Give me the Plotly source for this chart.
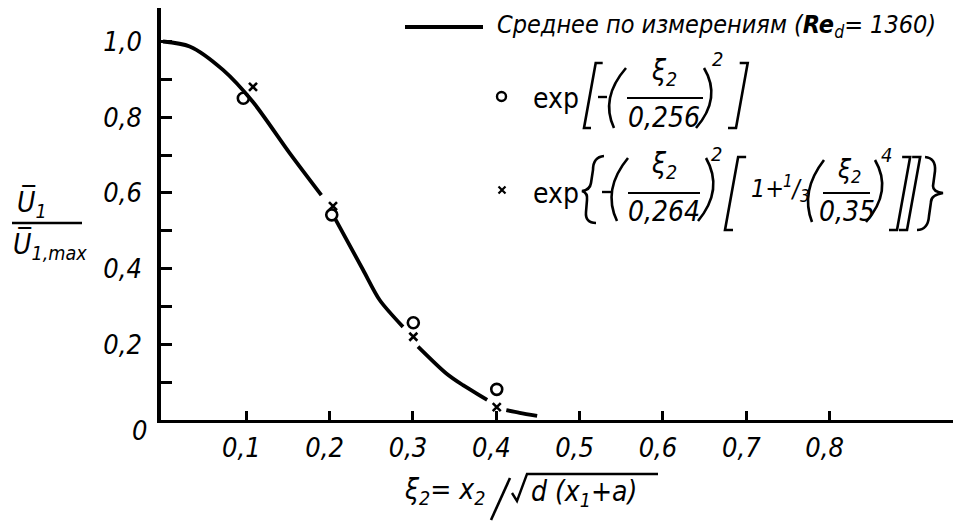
import plotly.graph_objects as go

# Mean measured profile (Re_d = 1360); None separates the pen strokes
curve_xi = [0.0, 0.032, 0.072, 0.108, 0.152, 0.19, None,
            0.207, 0.24, 0.26, 0.288, None,
            0.306, 0.34, 0.36, 0.389, None,
            0.412, 0.428, 0.449]
curve_u = [1.0, 0.987, 0.925, 0.84, 0.705, 0.594, None,
           0.53, 0.397, 0.317, 0.246, None,
           0.194, 0.123, 0.092, 0.053, None,
           0.026, 0.019, 0.011]

# Gaussian fit exp[-(xi/0.256)^2]
circle_xi = [0.0964, 0.2025, 0.3004, 0.4005]
circle_u = [0.85, 0.542, 0.257, 0.081]

# Corrected fit exp{-(xi/0.264)^2 [1 + 1/3 (xi/0.35)^4]}
cross_xi = [0.108, 0.204, 0.3004, 0.4005]
cross_u = [0.88, 0.565, 0.22, 0.034]

x_tickvals = [0.1, 0.2, 0.3, 0.4, 0.5, 0.6, 0.7, 0.8]
x_ticktext = ["0,1", "0,2", "0,3", "0,4", "0,5", "0,6", "0,7", "0,8"]
y_tickvals = [0.1, 0.2, 0.3, 0.4, 0.5, 0.6, 0.7, 0.8, 0.9, 1.0]
y_ticktext = ["", "0,2", "", "0,4", "", "0,6", "", "0,8", "", "1,0"]

W, H = 953, 522
ML, MR, MT, MB = 161, 0, 8, 102
PW, PH = W - ML - MR, H - MT - MB

FONT = "DejaVu Sans Condensed, DejaVu Sans, sans-serif"
UP = "DejaVu Sans Condensed, DejaVu Sans, sans-serif"
INK = "black"


def px(x):
    return (x - ML) / PW


def py(y):
    return (H - MB - y) / PH


fig = go.Figure()

fig.add_trace(go.Scatter(
    x=curve_xi, y=curve_u, mode="lines",
    line=dict(color=INK, width=3.8, shape="spline", smoothing=0.8),
    connectgaps=False, showlegend=False, hoverinfo="skip"))

fig.add_trace(go.Scatter(
    x=circle_xi, y=circle_u, mode="markers",
    marker=dict(symbol="circle-open", size=11, color=INK,
                line=dict(color=INK, width=2.6)),
    showlegend=False))

fig.add_trace(go.Scatter(
    x=cross_xi, y=cross_u, mode="markers",
    marker=dict(symbol="x-thin-open", size=8, color=INK,
                line=dict(color=INK, width=2.6)),
    showlegend=False))

x_lo = (ML - 163) / 833.3
x_hi = (W - MR - 163) / 833.3
y_hi = (H - MB - MT) / 378.5

tick_font = dict(family=FONT, size=27, color=INK, style="italic")

fig.update_xaxes(
    range=[x_lo, x_hi], showgrid=False, zeroline=False,
    showline=True, linecolor=INK, linewidth=3,
    tickvals=x_tickvals, ticktext=x_ticktext,
    ticks="inside", ticklen=9, tickwidth=2.5, tickcolor=INK,
    tickfont=tick_font, ticklabelstandoff=2, ticklabelshift=-5)

fig.update_yaxes(
    range=[0, y_hi], showgrid=False, zeroline=False,
    showline=True, linecolor=INK, linewidth=3.5,
    tickvals=y_tickvals, ticktext=y_ticktext,
    ticks="inside", ticklen=11, tickwidth=2.5, tickcolor=INK,
    tickfont=tick_font, ticklabelstandoff=10)

ann = []
shapes = []


def text(x, y, s, size=27, italic=True, anchor="center", family=FONT):
    ann.append(dict(
        x=px(x), y=py(y), xref="paper", yref="paper", text=s,
        showarrow=False, xanchor=anchor, yanchor="middle",
        font=dict(family=family, size=size, color=INK,
                  style="italic" if italic else "normal")))


def rule(x0, x1, y, width=2.2):
    shapes.append(dict(type="line", xref="paper", yref="paper",
                       x0=px(x0), x1=px(x1), y0=py(y), y1=py(y),
                       line=dict(color=INK, width=width)))


def stroke(cmds, width=2.6):
    """Pen stroke given as (op, x, y, ...) tuples in pixel space."""
    parts = []
    for c in cmds:
        op, pts = c[0], c[1:]
        xy = " ".join(f"{px(pts[i]):.5f},{py(pts[i + 1]):.5f}"
                      for i in range(0, len(pts), 2))
        parts.append(f"{op} {xy}")
    shapes.append(dict(type="path", xref="paper", yref="paper",
                       path=" ".join(parts),
                       line=dict(color=INK, width=width)))


SLANT = 0.18


def lbrack(xb, top, bot, serif=7):
    xt = xb + SLANT * (bot - top)
    stroke([("M", xt + serif, top), ("L", xt, top), ("L", xb, bot), ("L", xb + serif, bot)])


def rbrack(xb, top, bot, serif=8):
    xt = xb + SLANT * (bot - top)
    stroke([("M", xt - serif, top), ("L", xt, top), ("L", xb, bot), ("L", xb - serif, bot)])


def paren(xt, top, xc, xb, bot):
    stroke([("M", xt, top), ("Q", xc, (top + bot) / 2, xb, bot)])


# origin label
text(139, 430, "0")

# x-axis title: xi_2 = x_2 / sqrt(d (x_1 + a))
text(488, 492, "ξ<sub>2</sub>= x<sub>2</sub>", size=28, anchor="right")
stroke([("M", 491, 520), ("L", 510, 478)], width=2.6)
stroke([("M", 512, 493), ("L", 517, 501), ("L", 527, 474), ("L", 658, 474)], width=2.4)
text(529, 493, "d (x<sub>1</sub>+a)", size=28, anchor="left")

# y-axis title: U_1 / U_1,max
text(32, 204, "U\u0305<sub>1</sub>", size=28)
rule(12, 82, 223, width=2.5)
text(50, 246, "U\u0305<sub>1,max</sub>", size=28)

# legend: mean curve
rule(405, 483, 27, width=3.8)
text(495, 26, "Среднее по измерениям (<b>Re</b><sub>d</sub>= 1360)", size=25, anchor="left")

# legend: circle formula
shapes.append(dict(type="circle", xref="paper", yref="paper",
                   x0=px(497), x1=px(506), y0=py(92), y1=py(101),
                   line=dict(color=INK, width=2.4)))
text(556, 98, "exp", size=28, italic=False, family=UP)
lbrack(584, 63, 128)
rule(598, 607, 97, width=2.4)
paren(626, 68, 600, 614, 128)
text(664, 72, "ξ<sub>2</sub>", size=28)
rule(627, 703, 98)
text(664, 117, "0,256", size=28)
paren(704, 68, 722, 696, 128)
text(717, 59, "2", size=20)
rbrack(736, 63, 128)

# legend: cross formula
stroke([("M", 498.5, 186.5), ("L", 505.5, 193.5), ("M", 505.5, 186.5), ("L", 498.5, 193.5)], width=2.2)
text(556, 193, "exp", size=28, italic=False, family=UP)
stroke([("M", 604, 156), ("Q", 593, 157, 593, 170), ("L", 591, 183),
        ("Q", 590, 190, 582, 191), ("Q", 588, 193, 587, 200), ("L", 586, 212),
        ("Q", 585, 223, 596, 223)])
rule(602, 612, 192, width=2.4)
paren(628, 158, 602, 617, 221)
text(664, 165, "ξ<sub>2</sub>", size=28)
rule(628, 700, 193)
text(664, 211, "0,264", size=28)
paren(706, 158, 724, 698, 221)
text(716, 154, "2", size=20)
lbrack(725, 157, 230, serif=8)
text(767, 188, "1+", size=25)
text(796, 188, "<sup>1</sup>/<sub>3</sub>", size=24)
paren(824, 160, 800, 812, 222)
text(849, 170, "ξ<sub>2</sub>", size=26)
rule(823, 870, 193)
text(847, 211, "0,35", size=28)
paren(875, 160, 893, 866, 222)
text(886, 155, "4", size=20)
rbrack(897, 157, 230)
rbrack(907, 157, 230)
stroke([("M", 925, 157), ("Q", 936, 158, 935, 171), ("L", 933, 186),
        ("Q", 933, 192, 943, 193), ("Q", 931, 195, 931, 202), ("L", 929, 216),
        ("Q", 928, 230, 917, 230)])

fig.update_layout(
    width=W, height=H,
    margin=dict(l=ML, r=MR, t=MT, b=MB, pad=0),
    paper_bgcolor="white", plot_bgcolor="white",
    annotations=ann, shapes=shapes,
    font=dict(family=FONT, color=INK))

fig.write_html("out.html")
